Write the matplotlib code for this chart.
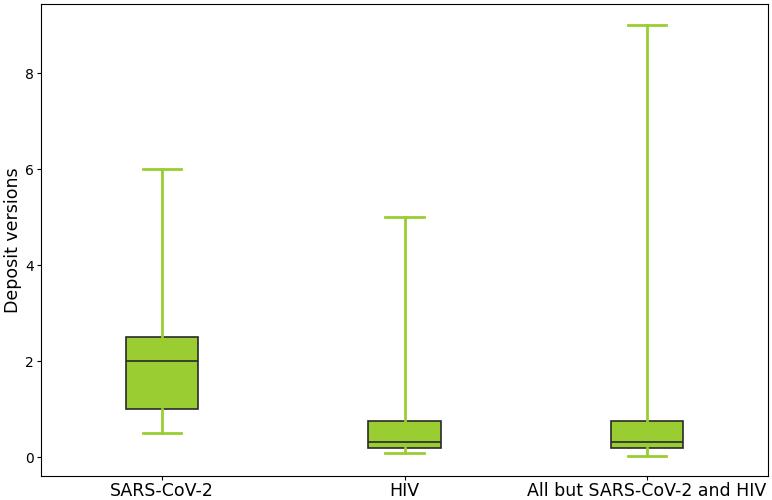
import matplotlib
matplotlib.use("Agg")
import matplotlib.pyplot as plt

categories = ["SARS-CoV-2", "HIV", "All but SARS-CoV-2 and HIV"]
whislo = [0.5, 0.1, 0.04]
q1 = [1.0, 0.2, 0.2]
med = [2.0, 0.33, 0.33]
q3 = [2.5, 0.75, 0.75]
whishi = [6.0, 5.0, 9.0]

stats = [dict(label=c, whislo=a, q1=b, med=m, q3=d, whishi=e)
         for c, a, b, m, d, e in zip(categories, whislo, q1, med, q3, whishi)]

fig = plt.figure(figsize=(7.72, 5), dpi=100)
ax = fig.add_axes([0.053, 0.049, 0.942, 0.943])
green = "#9ACD32"
ax.bxp(stats, positions=[0, 1, 2], widths=0.3, showfliers=False, patch_artist=True,
       boxprops=dict(facecolor=green, edgecolor="#2a2a2a", linewidth=1.2),
       medianprops=dict(color="#2a2a2a", linewidth=1.2),
       whiskerprops=dict(color=green, linewidth=2),
       capprops=dict(color=green, linewidth=2),
       capwidths=0.157)
ax.set_xlim(-0.5, 2.5)
ax.set_ylim(-0.375, 9.44)
ax.set_yticks([0, 2, 4, 6, 8])
ax.tick_params(axis="y", labelsize=10, length=3, pad=2)
ax.tick_params(axis="x", labelsize=12.5, length=3, pad=1.5)
ax.set_ylabel("Deposit versions", fontsize=12.5, labelpad=2)
fig.savefig("out.png", dpi=100)
